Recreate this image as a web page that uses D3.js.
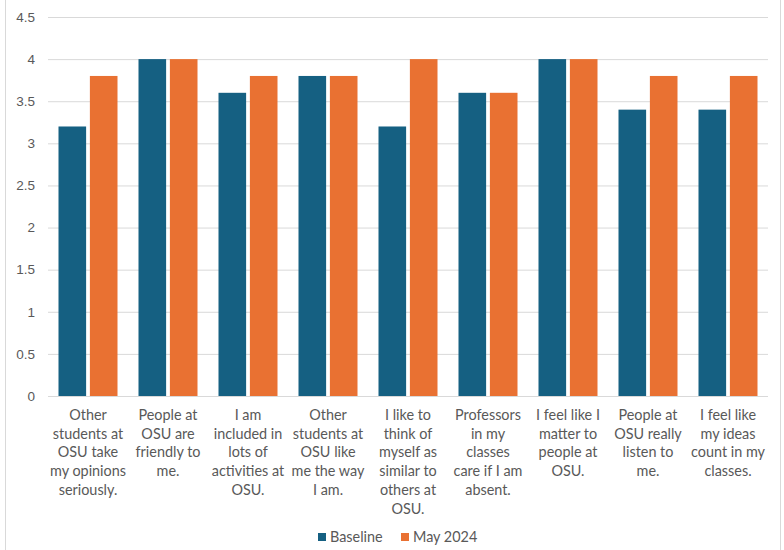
<!DOCTYPE html>
<html>
<head>
<meta charset="utf-8">
<script src="https://cdn.jsdelivr.net/npm/d3@7"></script>
<style>
  body { margin: 0; background: #fff; }
  svg { display: block; }
</style>
</head>
<body>
<div id="chart"></div>
<script>
const categories = [
  ["Other", "students at", "OSU take", "my opinions", "seriously."],
  ["People at", "OSU are", "friendly to", "me."],
  ["I am", "included in", "lots of", "activities at", "OSU."],
  ["Other", "students at", "OSU like", "me the way", "I am."],
  ["I like to", "think of", "myself as", "similar to", "others at", "OSU."],
  ["Professors", "in my", "classes", "care if I am", "absent."],
  ["I feel like I", "matter to", "people at", "OSU."],
  ["People at", "OSU really", "listen to", "me."],
  ["I feel like", "my ideas", "count in my", "classes."]
];
const baseline = [3.2, 4, 3.6, 3.8, 3.2, 3.6, 4, 3.4, 3.4];
const may2024 = [3.8, 4, 3.8, 3.8, 4, 3.6, 4, 3.8, 3.8];
const seriesNames = ["Baseline", "May 2024"];
const yTicks = [0, 0.5, 1, 1.5, 2, 2.5, 3, 3.5, 4, 4.5];

const width = 784, height = 550;
const margin = { top: 17, right: 16, bottom: 154, left: 48 };
const font = "Lato, 'Open Sans', sans-serif";
const textColor = "#595959";
const colors = ["#156082", "#E97132"];

const svg = d3.select("#chart").append("svg")
  .attr("width", width)
  .attr("height", height)
  .style("font-family", font);

// chart area border
svg.append("line").attr("x1", 5.5).attr("x2", 5.5).attr("y1", 0).attr("y2", height)
  .attr("stroke", "#d9d9d9");
svg.append("line").attr("x1", 780.5).attr("x2", 780.5).attr("y1", 0).attr("y2", height)
  .attr("stroke", "#d9d9d9");

const x = d3.scaleBand()
  .domain(d3.range(categories.length))
  .range([margin.left, width - margin.right])
  .paddingInner(0.2625)
  .paddingOuter(0.13125);

const xInner = d3.scaleBand()
  .domain([0, 1])
  .range([0, x.bandwidth()])
  .paddingInner(0.12);

const y = d3.scaleLinear()
  .domain([0, 4.5])
  .range([height - margin.bottom, margin.top]);

// gridlines + y labels
const yAxis = d3.axisLeft(y)
  .tickValues(yTicks)
  .tickSize(-(width - margin.left - margin.right))
  .tickPadding(13)
  .tickFormat(d3.format("~g"));

const gy = svg.append("g")
  .attr("transform", `translate(${margin.left},0)`)
  .call(yAxis);
gy.select(".domain").remove();
gy.selectAll(".tick line").attr("stroke", "#d9d9d9");
gy.selectAll(".tick text")
  .attr("fill", textColor)
  .style("font-size", "13.5px");

const rows = categories.map((c, i) => ({ i, values: [baseline[i], may2024[i]] }));

const groups = svg.append("g").selectAll("g")
  .data(rows)
  .join("g")
  .attr("transform", d => `translate(${x(d.i)},0)`);

groups.selectAll("rect")
  .data(d => d.values.map((v, s) => ({ s, v })))
  .join("rect")
  .attr("x", d => xInner(d.s))
  .attr("width", xInner.bandwidth())
  .attr("y", d => y(d.v))
  .attr("height", d => y(0) - y(d.v))
  .attr("fill", d => colors[d.s]);

// category labels
const labels = svg.append("g").selectAll("text")
  .data(categories)
  .join("text")
  .attr("text-anchor", "middle")
  .attr("fill", textColor)
  .style("font-size", "14.4px")
  .attr("transform", (d, i) => `translate(${x(i) + x.bandwidth() / 2},${y(0) + 24})`);

labels.selectAll("tspan")
  .data(d => d)
  .join("tspan")
  .attr("x", 0)
  .attr("y", (d, j) => j * 18.7)
  .text(d => d);

// legend
const legend = svg.append("g")
  .attr("transform", "translate(318,537)");
const legendPos = [0, 83];
seriesNames.forEach((name, i) => {
  const g = legend.append("g").attr("transform", `translate(${legendPos[i]},0)`);
  g.append("rect")
    .attr("x", 0).attr("y", -4)
    .attr("width", 8).attr("height", 8)
    .attr("fill", colors[i]);
  g.append("text")
    .attr("x", 12).attr("y", 0)
    .attr("dy", "0.35em")
    .attr("fill", textColor)
    .style("font-size", "14.4px")
    .text(name);
});
</script>
</body>
</html>
